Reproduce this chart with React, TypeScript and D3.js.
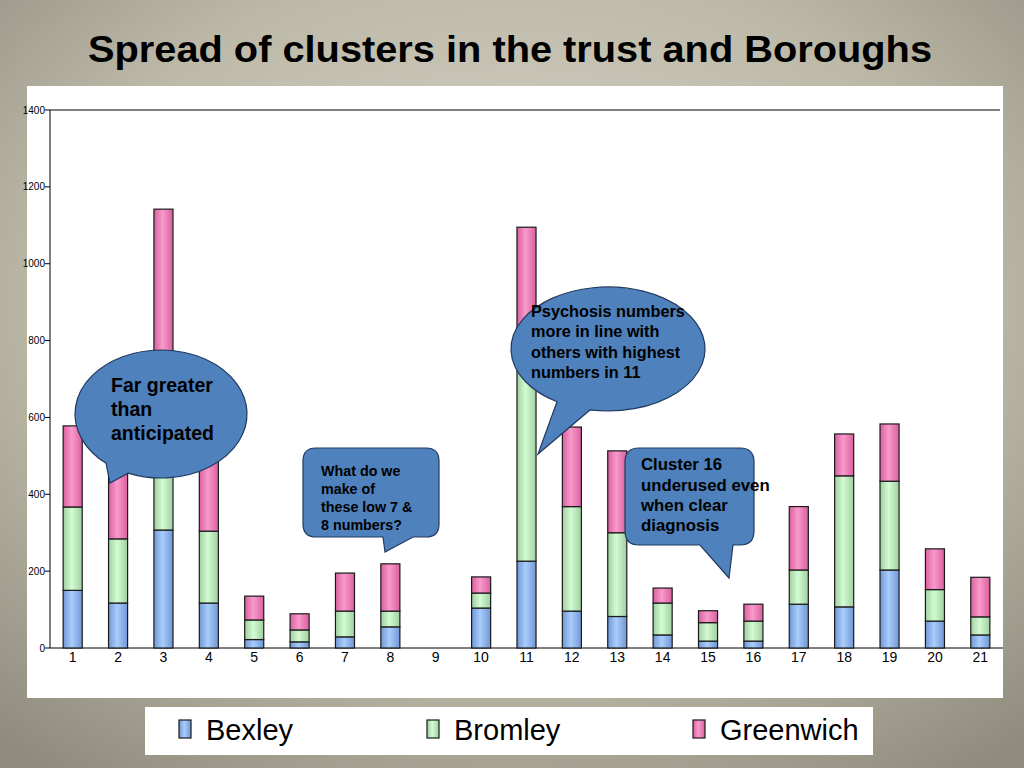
import React from "react";
import * as d3 from "d3";

// ---------- Data ----------
const clusters = ["1","2","3","4","5","6","7","8","9","10","11","12","13","14","15","16","17","18","19","20","21"];
const bexley =    [150, 117, 307, 117, 22, 16, 29, 55, 0, 104, 226, 96, 82, 34, 18, 18, 114, 107, 203, 70, 34];
const bromley =   [217, 167, 320, 187, 51, 31, 67, 41, 0, 39, 574, 272, 218, 83, 48, 52, 89, 341, 231, 82, 47];
const greenwich = [211, 216, 515, 196, 62, 42, 99, 123, 0, 42, 295, 207, 213, 39, 31, 44, 165, 109, 149, 106, 103];
const seriesNames = ["Bexley", "Bromley", "Greenwich"];
const yTicks = [0, 200, 400, 600, 800, 1000, 1200, 1400];

const fills = [
  { id: "gBex", edge: "#6f97d6", mid: "#a9cdfb" },
  { id: "gBro", edge: "#9fcf9f", mid: "#d4fbd4" },
  { id: "gGre", edge: "#d8609e", mid: "#f99acb" },
];

const W = 1024;
const H = 768;
const margin = { left: 50, top: 110, right: 1003, bottom: 648 };

// point on an ellipse at a given x (lower half)
const ellipsePt = (cx: number, cy: number, rx: number, ry: number, px: number) => {
  const c = (px - cx) / rx;
  return [px, cy + ry * Math.sqrt(1 - c * c)];
};

const ellipseCallout = (cx: number, cy: number, rx: number, ry: number, ax: number, bx: number, tip: [number, number]) => {
  const a = ellipsePt(cx, cy, rx, ry, ax);
  const b = ellipsePt(cx, cy, rx, ry, bx);
  return `M ${b[0]} ${b[1]} A ${rx} ${ry} 0 1 0 ${a[0]} ${a[1]} L ${tip[0]} ${tip[1]} Z`;
};

const rectCallout = (x0: number, y0: number, x1: number, y1: number, r: number, ta: number, tb: number, tip: [number, number]) =>
  `M ${x0 + r} ${y0} L ${x1 - r} ${y0} Q ${x1} ${y0} ${x1} ${y0 + r} L ${x1} ${y1 - r} Q ${x1} ${y1} ${x1 - r} ${y1} ` +
  `L ${tb} ${y1} L ${tip[0]} ${tip[1]} L ${ta} ${y1} L ${x0 + r} ${y1} Q ${x0} ${y1} ${x0} ${y1 - r} L ${x0} ${y0 + r} Q ${x0} ${y0} ${x0 + r} ${y0} Z`;

export default function App() {
  const rows = clusters.map((c, i) => ({
    c,
    Bexley: bexley[i],
    Bromley: bromley[i],
    Greenwich: greenwich[i],
  }));
  const stacked = d3.stack<any>().keys(seriesNames)(rows);

  const x = d3.scaleBand().domain(clusters).range([margin.left, margin.right]).paddingInner(0.58).paddingOuter(0.29);
  const y = d3.scaleLinear().domain([0, 1400]).range([margin.bottom, margin.top]);

  const calloutFill = "#4f81bd";
  const calloutStroke = "#1f3a60";
  const txt = { fontFamily: "'Liberation Sans', Arial, sans-serif", fontWeight: 700, fill: "#000" } as const;
  const narrow = "'Liberation Sans Narrow', 'Liberation Sans', Arial, sans-serif";

  return (
    <svg width={W} height={H} style={{ position: "absolute", left: 0, top: 0 }}>
      <defs>
        <radialGradient id="bg" cx="50%" cy="40%" r="75%">
          <stop offset="0%" stopColor="#dcd8ca" />
          <stop offset="60%" stopColor="#bdb9a9" />
          <stop offset="100%" stopColor="#8f8c7d" />
        </radialGradient>
        {fills.map((f) => (
          <linearGradient key={f.id} id={f.id} x1="0" x2="1" y1="0" y2="0">
            <stop offset="0%" stopColor={f.edge} />
            <stop offset="45%" stopColor={f.mid} />
            <stop offset="100%" stopColor={f.edge} />
          </linearGradient>
        ))}
      </defs>
      <rect x={0} y={0} width={W} height={H} fill="url(#bg)" />

      <text x={88} y={62} fontSize={37} textLength={844} lengthAdjust="spacingAndGlyphs" {...txt}>
        Spread of clusters in the trust and Boroughs
      </text>

      {/* chart panel */}
      <rect x={27} y={86} width={976} height={612} fill="#fff" />
      <line x1={margin.left} x2={1000} y1={margin.top} y2={margin.top} stroke="#000" strokeWidth={1} />
      <line x1={margin.left} x2={margin.left} y1={margin.top} y2={margin.bottom} stroke="#000" strokeWidth={1} />
      <line x1={margin.left} x2={margin.right} y1={margin.bottom} y2={margin.bottom} stroke="#000" strokeWidth={1} />
      {yTicks.map((t) => (
        <g key={t}>
          <line x1={margin.left - 5} x2={margin.left} y1={y(t)} y2={y(t)} stroke="#000" />
          <text x={margin.left - 5} y={y(t)} dy="0.35em" textAnchor="end" fontSize={10}
            fontFamily={narrow} fill="#000">{t}</text>
        </g>
      ))}
      {clusters.map((c) => (
        <text key={c} x={x(c)! + x.bandwidth() / 2} y={662} textAnchor="middle" fontSize={14}
          fontFamily={narrow} fill="#000">{c}</text>
      ))}

      {/* bars */}
      {stacked.map((s, si) => (
        <g key={s.key}>
          {s.map((d, i) =>
            d[1] - d[0] > 0 ? (
              <rect key={i} x={x(clusters[i])} y={y(d[1])} width={x.bandwidth()} height={y(d[0]) - y(d[1])}
                fill={`url(#${fills[si].id})`} stroke="#1a1a1a" strokeWidth={1.2} />
            ) : null
          )}
        </g>
      ))}

      {/* callout 1 */}
      <path d={ellipseCallout(161, 414, 86, 64, 106, 128, [110, 483])} fill={calloutFill} stroke={calloutStroke} strokeWidth={1.2} />
      <text fontSize={19.5} {...txt}>
        <tspan x={111} y={392}>Far greater</tspan>
        <tspan x={111} y={416}>than</tspan>
        <tspan x={111} y={440}>anticipated</tspan>
      </text>

      {/* callout 2 */}
      <path d={rectCallout(303, 448, 439, 537, 13, 383, 413, [385, 552])} fill={calloutFill} stroke={calloutStroke} strokeWidth={1.2} />
      <text fontSize={14.3} {...txt}>
        <tspan x={321} y={476}>What do we</tspan>
        <tspan x={321} y={494}>make of</tspan>
        <tspan x={321} y={512}>these low 7 &amp;</tspan>
        <tspan x={321} y={530}>8 numbers?</tspan>
      </text>

      {/* callout 3 */}
      <path d={ellipseCallout(608, 349, 97, 62, 557, 590, [538, 454])} fill={calloutFill} stroke={calloutStroke} strokeWidth={1.2} />
      <text fontSize={16.3} {...txt}>
        <tspan x={531} y={317}>Psychosis numbers</tspan>
        <tspan x={531} y={337}>more in line with</tspan>
        <tspan x={531} y={358}>others with highest</tspan>
        <tspan x={531} y={378}>numbers in 11</tspan>
      </text>

      {/* callout 4 */}
      <path d={rectCallout(625, 448, 754, 545, 14, 700, 733, [729, 578])} fill={calloutFill} stroke={calloutStroke} strokeWidth={1.2} />
      <text fontSize={16.8} {...txt}>
        <tspan x={641} y={470}>Cluster 16</tspan>
        <tspan x={641} y={491}>underused even</tspan>
        <tspan x={641} y={511}>when clear</tspan>
        <tspan x={641} y={531}>diagnosis</tspan>
      </text>

      {/* legend */}
      <rect x={145} y={707} width={728} height={48} fill="#fff" />
      {seriesNames.map((n, i) => {
        const lx = [179, 427, 693][i];
        return (
          <g key={n}>
            <rect x={lx} y={720} width={12} height={18} fill={`url(#${fills[i].id})`} stroke="#1a1a1a" strokeWidth={1.2} />
            <text x={lx + 27} y={740} fontSize={29} fontFamily="'Liberation Sans', Arial, sans-serif" fill="#000">{n}</text>
          </g>
        );
      })}
    </svg>
  );
}
